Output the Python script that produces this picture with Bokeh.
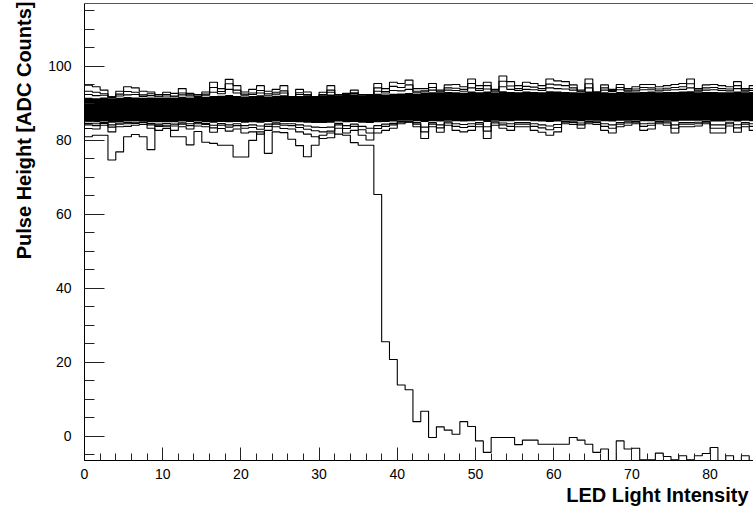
from bokeh.plotting import figure
from bokeh.models import SingleIntervalTicker, LinearAxis, Title, FixedTicker, Range1d
from bokeh.embed import file_html
from bokeh.resources import INLINE

# bin edges of the LED light intensity histogram (bin width 1)
bin_edges = list(range(0, 87))

# upper envelope of the overlaid channel histograms
upper_max = [94.9,94.5,93.6,91.8,93.3,94.5,94.2,93.3,93.1,92.4,
             93.0,92.7,94.0,92.7,92.4,93.1,95.7,94.0,96.5,94.8,
             93.1,93.8,94.8,93.3,93.8,94.8,91.8,93.8,93.1,91.8,
             93.0,94.8,92.4,92.7,93.6,92.4,92.4,95.4,94.0,95.7,
             95.4,96.3,94.0,94.0,95.4,93.6,95.0,95.1,94.5,96.6,
             94.8,95.7,93.8,97.4,95.9,94.8,95.7,95.4,94.8,96.6,
             96.1,95.9,95.0,93.6,96.6,93.1,95.0,93.8,95.1,94.0,
             94.5,95.1,95.1,94.5,94.8,95.1,95.4,96.6,94.0,95.0,
             95.1,94.8,94.5,95.9,94.0,94.8]
upper_second = [93.3,93.0,92.6,91.8,92.5,93.2,93.0,92.3,92.6,92.0,
                92.4,92.0,92.8,92.3,92.0,92.5,94.3,93.2,95.3,93.6,
                92.5,92.8,93.5,92.6,93.0,93.4,91.8,92.9,92.4,91.8,
                92.4,93.6,92.4,92.6,92.9,92.4,92.4,94.2,93.2,94.6,
                94.3,95.0,93.3,93.4,94.3,93.3,94.2,94.1,93.8,95.4,
                94.0,94.8,93.4,96.0,94.7,94.0,94.6,94.4,94.0,95.2,
                95.0,94.8,94.2,93.3,95.3,93.1,94.2,93.5,94.3,93.6,
                93.9,94.3,94.2,93.9,94.1,94.3,94.5,95.3,93.6,94.2,
                94.3,94.0,93.9,94.8,93.6,94.0]
upper_third = [92.4,92.1,92.2,91.6,92.0,92.3,92.4,91.9,92.1,91.8,
               92.0,91.8,92.3,92.0,91.9,92.2,93.0,92.6,93.8,92.8,
               92.2,92.4,92.8,92.2,92.5,92.8,91.8,92.4,92.2,91.8,
               92.25,93.0,92.3,92.45,92.65,92.3,92.35,93.3,92.8,93.5,
               93.4,93.8,92.9,93.1,93.6,93.0,93.6,93.5,93.3,94.2,
               93.5,93.9,93.1,94.5,93.8,93.5,93.8,93.7,93.5,94.2,
               94.0,93.9,93.6,93.1,94.2,92.95,93.6,93.2,93.7,93.3,
               93.4,93.7,93.7,93.4,93.6,93.7,93.8,94.2,93.3,93.6,
               93.7,93.5,93.4,94.0,93.3,93.5]
# dense core of the band
core_hi = [91.5,91.4,91.6,91.4,91.5,91.7,91.6,91.5,91.6,91.5,
           91.6,91.5,91.8,91.6,91.7,91.8,92.0,92.1,92.3,92.0,
           91.9,92.0,92.2,91.9,92.1,92.2,91.8,92.0,92.0,91.8,
           92.1,92.4,92.2,92.3,92.4,92.2,92.3,92.6,92.4,92.6,
           92.7,92.8,92.6,92.8,93.0,92.8,93.1,93.0,92.9,93.2,
           93.0,93.2,92.9,93.3,93.1,93.0,93.2,93.1,93.0,93.3,
           93.2,93.1,93.0,92.9,93.2,92.8,93.0,92.9,93.1,93.0,
           93.0,93.1,93.2,93.0,93.1,93.1,93.2,93.3,93.0,93.1,
           93.1,93.0,93.0,93.2,93.0,93.1]
core_lo = [85.0,84.9,85.1,84.8,85.0,85.1,85.2,85.1,85.0,84.9,
           85.0,84.9,85.1,85.0,85.1,85.0,84.8,85.0,84.9,85.0,
           84.8,84.9,84.8,85.0,85.1,85.0,85.0,84.9,84.8,84.7,
           84.7,84.8,85.1,84.9,85.0,84.8,84.7,84.9,85.0,85.1,
           85.3,85.4,85.2,85.0,85.2,85.1,85.3,85.2,85.1,85.2,
           85.3,85.0,85.3,85.2,85.2,85.3,85.3,85.2,85.1,85.0,
           85.1,85.4,85.3,85.2,85.4,85.3,85.2,85.1,85.3,85.3,
           85.4,85.2,85.2,85.4,85.3,85.1,85.3,85.3,85.3,85.4,
           85.1,85.1,85.3,85.1,85.3,85.2]
# lower envelope of the band
lower_third = [84.6,84.5,84.85,84.2,84.7,84.8,84.9,84.95,84.6,84.4,
               84.6,84.4,84.75,84.5,84.8,84.6,84.1,84.55,84.2,84.5,
               84.0,84.2,83.9,84.4,84.75,84.5,84.5,84.2,83.9,83.6,
               83.5,83.6,84.6,84.0,84.4,83.8,83.3,84.0,84.4,84.6,
               85.1,85.2,84.8,83.6,84.8,84.2,85.0,84.5,84.3,84.5,
               84.85,83.7,85.0,84.7,84.5,84.85,84.85,84.5,84.2,83.9,
               84.3,85.15,85.05,84.7,85.15,85.05,84.5,84.2,84.85,85.0,
               85.15,84.5,84.65,85.15,85.0,84.2,84.85,84.85,84.9,85.15,
               84.2,84.2,84.9,84.25,84.85,84.5]
lower_second = [84.2,84.0,84.6,83.6,84.4,84.5,84.6,84.8,84.2,83.8,
                84.1,83.9,84.4,84.0,84.5,84.3,83.4,84.1,83.6,84.0,
                83.3,83.5,83.0,83.8,84.4,84.1,84.0,83.5,83.0,82.6,
                82.3,82.5,84.2,83.2,83.8,82.9,82.0,83.2,83.8,84.2,
                84.9,85.0,84.4,82.3,84.4,83.4,84.7,83.8,83.5,83.8,
                84.4,82.5,84.7,84.2,83.8,84.4,84.4,83.8,83.4,82.9,
                83.5,84.9,84.8,84.2,84.9,84.8,83.8,83.3,84.4,84.7,
                84.9,83.8,84.1,84.9,84.7,83.3,84.4,84.4,84.5,84.9,
                83.3,83.3,84.5,83.4,84.4,83.8]
lower_min = [83.2,83.1,84.1,82.3,83.7,83.8,84.1,84.3,83.3,82.7,
             83.2,82.7,83.7,83.1,83.9,83.7,82.2,83.2,82.5,83.1,
             82.0,82.3,81.7,82.7,83.7,83.2,83.1,82.3,81.7,81.0,
             80.5,80.7,83.3,82.0,82.7,81.4,80.1,82.0,82.7,83.3,
             84.5,84.9,83.7,80.5,83.7,82.2,84.1,82.7,82.3,82.7,
             83.7,80.5,84.1,83.3,82.7,83.7,83.7,82.7,82.2,81.4,
             82.3,84.5,84.3,83.3,84.5,84.3,82.7,82.0,83.7,84.1,
             84.5,82.7,83.1,84.5,84.1,82.0,83.7,83.7,83.9,84.5,
             82.0,82.0,83.9,82.2,83.7,82.7]
# the one channel that drops off
dead_channel = [81.0,81.4,81.4,74.7,76.9,81.0,81.6,81.0,77.5,84.1,
                83.7,81.0,81.0,78.8,82.4,79.5,79.2,78.7,78.7,75.5,
                75.5,80.0,82.3,76.5,82.3,82.1,80.3,78.6,75.6,78.7,
                81.4,82.0,81.7,81.4,79.4,78.7,78.7,65.4,25.6,20.8,
                13.9,12.6,4.0,6.8,-0.3,2.6,1.7,0.6,4.0,2.7,
                -1.2,-4.3,-0.3,-0.3,-0.3,-2.2,-1.0,-1.0,-2.1,-2.1,
                -2.1,-2.1,-0.3,-1.0,-2.1,-4.3,-3.4,-7.0,-1.2,-3.4,
                -3.2,-6.3,-6.3,-4.5,-5.4,-6.3,-5.2,-6.3,-5.2,-4.6,
                -3.0,-7.0,-5.2,-7.0,-5.2,-7.0]

x_title = "LED Light Intensity"
y_title = "Pulse Height [ADC Counts]"

FONT = "Liberation Sans"

p = figure(width=753, height=509, output_backend="svg", toolbar_location=None,
           x_range=Range1d(0, 85.55), y_range=Range1d(-6.5, 117),
           min_border_left=83, min_border_right=0, min_border_top=3,
           min_border_bottom=49, x_axis_type=None, y_axis_type=None)
p.outline_line_color = None
p.background_fill_color = "white"
p.border_fill_color = "white"

def ext(v):
    return v + [v[-1]]

p.varea_step(x=bin_edges, y1=ext(core_lo), y2=ext(core_hi), step_mode="after",
             fill_color="black")
for series in (upper_max, upper_second, upper_third, lower_third, lower_second, lower_min):
    p.step(x=bin_edges, y=ext(series), mode="after", line_color="black", line_width=1.1)
p.step(x=bin_edges, y=ext(dead_channel), mode="after", line_color="black", line_width=1.1)

xaxis = LinearAxis(ticker=SingleIntervalTicker(interval=10, num_minor_ticks=5))
yaxis = LinearAxis(ticker=SingleIntervalTicker(interval=20, num_minor_ticks=4))
for ax in (xaxis, yaxis):
    ax.major_tick_out = 0
    ax.minor_tick_out = 0
    ax.major_label_text_font = FONT
    ax.major_label_text_font_size = "14px"
    ax.major_label_text_color = "black"
    ax.axis_line_color = "black"
    ax.major_tick_line_color = "#222222"
    ax.minor_tick_line_color = "#222222"
xaxis.major_tick_in = 13
xaxis.minor_tick_in = 7
xaxis.major_label_standoff = 8
yaxis.major_tick_in = 20
yaxis.minor_tick_in = 10
yaxis.major_label_standoff = 13
p.add_layout(xaxis, "below")
p.add_layout(yaxis, "left")

top = LinearAxis(ticker=FixedTicker(ticks=[]), major_label_text_font_size="0px",
                 axis_line_color="#555555", major_tick_in=0, major_tick_out=0,
                 minor_tick_in=0, minor_tick_out=0)
p.add_layout(top, "above")

p.add_layout(Title(text=x_title, align="right", text_font=FONT, text_font_size="20px",
                   text_font_style="bold", text_color="black", offset=5, standoff=0), "below")
p.add_layout(Title(text=y_title, align="right", text_font=FONT, text_font_size="20px",
                   text_font_style="bold", text_color="black", offset=-2, standoff=21), "left")

open("out.html", "w").write(file_html(p, INLINE))
